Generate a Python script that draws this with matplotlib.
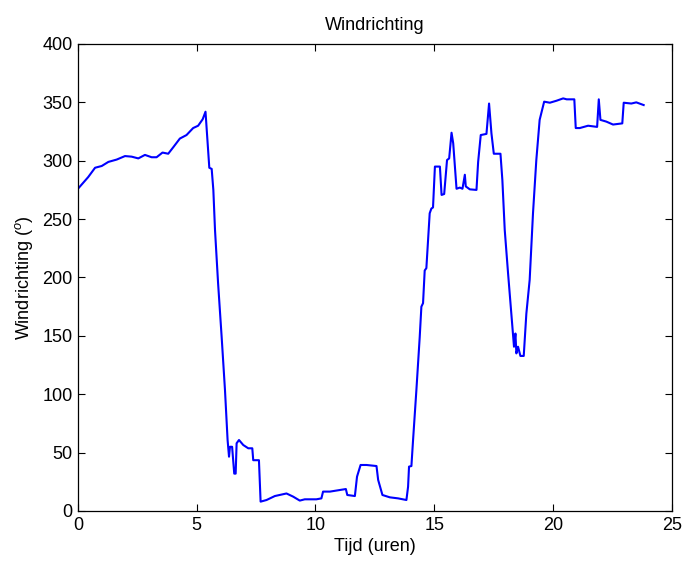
import matplotlib
matplotlib.use("Agg")
import matplotlib.pyplot as plt

# Wind direction over the day (hours, degrees)
tijd = [0.00, 0.43, 0.72, 1.00, 1.28, 1.63, 1.98, 2.26, 2.54, 2.82, 3.10, 3.31,
        3.56, 3.80, 4.01, 4.29, 4.57, 4.85, 5.06, 5.25, 5.37, 5.53, 5.63, 5.70,
        5.77, 5.90, 6.05, 6.19, 6.30, 6.36, 6.40, 6.49, 6.58, 6.64, 6.68, 6.78,
        6.96, 7.17, 7.34, 7.38, 7.62, 7.69, 7.94, 8.29, 8.78, 9.06, 9.34, 9.55,
        10.04, 10.25, 10.32, 10.61, 11.03, 11.28, 11.34, 11.66, 11.75, 11.90,
        12.15, 12.57, 12.64, 12.82, 13.13, 13.48, 13.83, 13.90, 13.94, 14.04,
        14.11, 14.25, 14.39, 14.46, 14.53, 14.60, 14.67, 14.74, 14.81, 14.88,
        14.95, 15.03, 15.24, 15.31, 15.42, 15.54, 15.63, 15.73, 15.80, 15.94,
        16.08, 16.19, 16.29, 16.33, 16.50, 16.78, 16.85, 16.96, 17.20, 17.31,
        17.41, 17.51, 17.79, 17.87, 17.97, 18.11, 18.25, 18.32, 18.36, 18.42,
        18.46, 18.53, 18.63, 18.77, 18.88, 19.02, 19.16, 19.30, 19.44, 19.63,
        19.87, 20.15, 20.43, 20.58, 20.90, 20.96, 21.13, 21.48, 21.86, 21.93,
        22.00, 22.25, 22.53, 22.92, 22.98, 23.30, 23.51, 23.82]
richting = [276, 286, 294, 295.5, 299, 301, 304, 303.5, 302, 305, 303, 303,
            307, 306, 311.5, 319, 322, 328, 330, 335.5, 342, 294, 293, 275,
            240.7, 195, 149, 103.6, 60.8, 46.5, 55, 55, 32, 32, 58, 60.8,
            56.5, 53.7, 53.7, 43.5, 43.5, 8, 9.4, 12.8, 15, 12.3, 8.9, 10,
            10, 10.8, 16.6, 16.6, 18, 18.8, 13.7, 12.8, 29.4, 39.4,
            39.4, 38.5, 26.6, 13.7, 11.7, 10.8, 9.4, 20.8, 38, 38.5,
            60.8, 103.6, 149, 175, 178, 206, 208, 232, 255, 259,
            260, 295, 295, 270.7, 271.5, 300.6, 302, 324, 315, 276,
            277, 276, 288, 278, 275.5, 275, 299, 322, 323, 349,
            323.5, 306, 306, 283.5, 240.7, 203.6, 169, 152, 140.7, 152,
            135, 140.7, 132.8, 132.8, 169, 198, 255, 300.6, 335, 350.6,
            349.7, 351.4, 353.4, 352.6, 352.6, 328, 328, 330, 329, 352.6,
            335, 333.5, 331, 332, 349.7, 349, 350, 347.7]

xticks = [0, 5, 10, 15, 20, 25]
yticks = [0, 50, 100, 150, 200, 250, 300, 350, 400]

plt.rcParams['font.family'] = ['Liberation Sans', 'DejaVu Sans']
plt.rcParams['mathtext.fontset'] = 'custom'
plt.rcParams['mathtext.rm'] = 'Liberation Sans'
plt.rcParams['mathtext.it'] = 'Liberation Sans:italic'

fig = plt.figure(figsize=(6.84, 5.64), dpi=100)
ax = fig.add_axes([0.114, 0.094, 0.868, 0.828])
ax.plot(tijd, richting, color='#0000ff', linewidth=1.5)

ax.set_xlim(0, 25)
ax.set_ylim(0, 400)
ax.set_xticks(xticks)
ax.set_yticks(yticks)
ax.tick_params(direction='in', top=True, right=True, length=5, width=0.8,
               labelsize=13, pad=4)
for s in ax.spines.values():
    s.set_linewidth(0.9)

ax.set_title('Windrichting', fontsize=13, pad=10)
ax.set_xlabel('Tijd (uren)', fontsize=13, labelpad=3)
ax.set_ylabel('Windrichting ($^o$)', fontsize=13, labelpad=5)

fig.savefig('out.png', dpi=100)
